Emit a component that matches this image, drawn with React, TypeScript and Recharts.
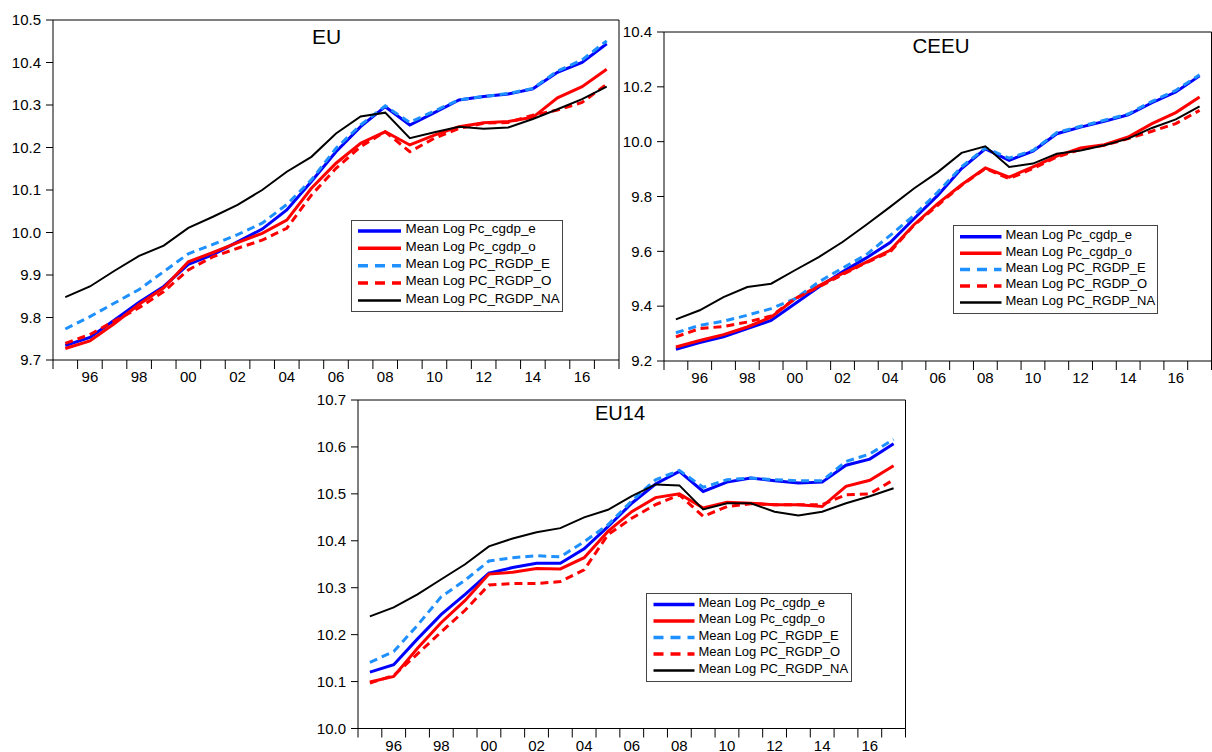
import React from 'react';
import { LineChart, Line, XAxis, YAxis, ReferenceArea, Legend } from 'recharts';

const FONT = "'Liberation Sans', Arial, sans-serif";

// ---------- data ----------
const years = [1995, 1996, 1997, 1998, 1999, 2000, 2001, 2002, 2003, 2004, 2005, 2006, 2007, 2008, 2009, 2010, 2011, 2012, 2013, 2014, 2015, 2016, 2017];
const xLabelYears = [1996, 1998, 2000, 2002, 2004, 2006, 2008, 2010, 2012, 2014, 2016];
const xBandEdges = [1994.5, 1995.5, 1996.5, 1997.5, 1998.5, 1999.5, 2000.5, 2001.5, 2002.5, 2003.5, 2004.5, 2005.5, 2006.5, 2007.5, 2008.5, 2009.5, 2010.5, 2011.5, 2012.5, 2013.5, 2014.5, 2015.5, 2016.5, 2017.5];

const seriesNames = ['Mean Log Pc_cgdp_e', 'Mean Log Pc_cgdp_o', 'Mean Log PC_RGDP_E', 'Mean Log PC_RGDP_O', 'Mean Log PC_RGDP_NA'];
const seriesKeys = ['cgdpE', 'cgdpO', 'rgdpE', 'rgdpO', 'rgdpNA'];

// EU
const euCgdpE = [9.734, 9.753, 9.794, 9.836, 9.873, 9.925, 9.948, 9.978, 10.008, 10.053, 10.12, 10.19, 10.249, 10.296, 10.253, 10.282, 10.312, 10.32, 10.326, 10.338, 10.377, 10.4, 10.444];
const euCgdpO = [9.727, 9.745, 9.786, 9.831, 9.87, 9.931, 9.953, 9.976, 9.998, 10.029, 10.104, 10.163, 10.21, 10.237, 10.206, 10.229, 10.249, 10.258, 10.261, 10.271, 10.317, 10.343, 10.384];
const euRgdpE = [9.773, 9.802, 9.834, 9.866, 9.908, 9.95, 9.972, 9.995, 10.022, 10.066, 10.124, 10.198, 10.253, 10.298, 10.259, 10.286, 10.312, 10.32, 10.327, 10.339, 10.38, 10.406, 10.451];
const euRgdpO = [9.739, 9.76, 9.792, 9.823, 9.861, 9.912, 9.943, 9.963, 9.982, 10.01, 10.088, 10.151, 10.202, 10.237, 10.19, 10.222, 10.245, 10.257, 10.259, 10.276, 10.288, 10.306, 10.349];
const euRgdpNA = [9.848, 9.873, 9.91, 9.945, 9.969, 10.011, 10.037, 10.065, 10.1, 10.143, 10.178, 10.233, 10.273, 10.282, 10.222, 10.236, 10.249, 10.244, 10.247, 10.267, 10.29, 10.314, 10.343];
const euYTicks = [9.7, 9.8, 9.9, 10.0, 10.1, 10.2, 10.3, 10.4, 10.5];

// CEEU
const ceeuCgdpE = [9.243, 9.267, 9.288, 9.318, 9.348, 9.409, 9.47, 9.525, 9.576, 9.632, 9.719, 9.804, 9.902, 9.974, 9.932, 9.965, 10.029, 10.053, 10.074, 10.098, 10.142, 10.181, 10.24];
const ceeuCgdpO = [9.251, 9.275, 9.296, 9.324, 9.36, 9.427, 9.474, 9.519, 9.561, 9.604, 9.697, 9.774, 9.843, 9.904, 9.871, 9.908, 9.947, 9.977, 9.989, 10.017, 10.066, 10.106, 10.163];
const ceeuRgdpE = [9.303, 9.33, 9.345, 9.367, 9.391, 9.427, 9.488, 9.539, 9.588, 9.658, 9.731, 9.816, 9.908, 9.977, 9.94, 9.968, 10.033, 10.056, 10.078, 10.101, 10.147, 10.187, 10.244];
const ceeuRgdpO = [9.288, 9.318, 9.326, 9.342, 9.364, 9.427, 9.47, 9.515, 9.559, 9.598, 9.695, 9.768, 9.841, 9.902, 9.865, 9.902, 9.944, 9.972, 9.987, 10.011, 10.038, 10.066, 10.114];
const ceeuRgdpNA = [9.352, 9.385, 9.433, 9.47, 9.482, 9.531, 9.579, 9.634, 9.697, 9.762, 9.829, 9.889, 9.959, 9.983, 9.908, 9.92, 9.956, 9.968, 9.987, 10.011, 10.05, 10.081, 10.129];
const ceeuYTicks = [9.2, 9.4, 9.6, 9.8, 10.0, 10.2, 10.4];

// EU14
const eu14CgdpE = [10.12, 10.136, 10.191, 10.243, 10.286, 10.331, 10.343, 10.352, 10.352, 10.383, 10.43, 10.48, 10.521, 10.548, 10.505, 10.525, 10.534, 10.528, 10.523, 10.525, 10.561, 10.574, 10.607];
const eu14CgdpO = [10.099, 10.111, 10.171, 10.226, 10.273, 10.329, 10.333, 10.341, 10.34, 10.364, 10.42, 10.462, 10.492, 10.5, 10.47, 10.482, 10.48, 10.477, 10.477, 10.473, 10.516, 10.529, 10.56];
const eu14RgdpE = [10.141, 10.164, 10.22, 10.281, 10.316, 10.357, 10.364, 10.368, 10.366, 10.398, 10.434, 10.485, 10.53, 10.55, 10.514, 10.53, 10.534, 10.53, 10.528, 10.528, 10.569, 10.585, 10.616];
const eu14RgdpO = [10.097, 10.113, 10.159, 10.206, 10.252, 10.306, 10.309, 10.309, 10.313, 10.338, 10.413, 10.448, 10.477, 10.498, 10.452, 10.473, 10.479, 10.477, 10.477, 10.477, 10.498, 10.5, 10.53];
const eu14RgdpNA = [10.239, 10.258, 10.286, 10.318, 10.35, 10.388, 10.405, 10.418, 10.427, 10.45, 10.466, 10.495, 10.52, 10.518, 10.467, 10.48, 10.48, 10.462, 10.454, 10.462, 10.48, 10.495, 10.512];
const eu14YTicks = [10.0, 10.1, 10.2, 10.3, 10.4, 10.5, 10.6, 10.7];

// ---------- styles ----------
const seriesStyles = [
  { color: '#0000ff', width: 3, dash: undefined as string | undefined, legendDash: undefined as string | undefined },
  { color: '#ff0000', width: 3, dash: undefined, legendDash: undefined },
  { color: '#1e90ff', width: 3, dash: '8 5', legendDash: '10 7' },
  { color: '#ff0000', width: 3, dash: '8 5', legendDash: '10 7' },
  { color: '#000000', width: 2, dash: undefined, legendDash: undefined },
];

function buildRows(cols: number[][]) {
  return years.map((year, i) => {
    const row: Record<string, number> = { year };
    seriesKeys.forEach((k, j) => {
      row[k] = cols[j][i];
    });
    return row;
  });
}

const xTicks = [...xBandEdges, ...xLabelYears];

function XTick(props: any) {
  const { x, y, payload } = props;
  const v = payload.value as number;
  if (Number.isInteger(v)) {
    return (
      <text x={x} y={y + 22} textAnchor="middle" fontSize={15} fontFamily={FONT} fill="#000">
        {String(v).slice(2)}
      </text>
    );
  }
  return <line x1={x} x2={x} y1={y} y2={y + 9} stroke="#000" strokeWidth={1} />;
}

type PanelCfg = {
  title: string;
  titleX: number;
  titleY: number;
  titleSize: number;
  rows: Record<string, number>[];
  yDomain: [number, number];
  yTicks: number[];
  plotLeft: number;
  plotTop: number;
  plotRight: number;
  plotBottom: number;
  legendX: number;
  legendY: number;
  legendW: number;
  legendH: number;
  legendRowStart: number;
  legendRowStep: number;
  legendFont: number;
  legendLineX1: number;
  legendLineX2: number;
  legendTextX: number;
};

function LegendBox({ cfg }: { cfg: PanelCfg }) {
  return (
    <div
      style={{
        width: cfg.legendW,
        height: cfg.legendH,
        border: '1px solid #444',
        background: '#fff',
        boxSizing: 'border-box',
      }}
    >
      <svg width={cfg.legendW - 2} height={cfg.legendH - 2} style={{ display: 'block' }}>
        {seriesNames.map((name, i) => {
          const cy = cfg.legendRowStart + i * cfg.legendRowStep;
          const st = seriesStyles[i];
          return (
            <g key={name}>
              <line
                x1={cfg.legendLineX1}
                x2={cfg.legendLineX2}
                y1={cy + 2.5}
                y2={cy + 2.5}
                stroke={st.color}
                strokeWidth={st.width + 0.5}
                strokeDasharray={st.legendDash}
              />
              <text x={cfg.legendTextX} y={cy + 4.8} fontSize={cfg.legendFont} fontFamily={FONT} fill="#000">
                {name}
              </text>
            </g>
          );
        })}
      </svg>
    </div>
  );
}

function Panel({ cfg }: { cfg: PanelCfg }) {
  const padL = 60;
  const padT = 10;
  const padR = 10;
  const xAxisH = 40;
  const left = cfg.plotLeft - padL;
  const top = cfg.plotTop - padT;
  const width = cfg.plotRight - cfg.plotLeft + padL + padR;
  const height = cfg.plotBottom - cfg.plotTop + padT + xAxisH;
  return (
    <>
      <div style={{ position: 'absolute', left, top }}>
        <LineChart width={width} height={height} data={cfg.rows} margin={{ top: padT, right: padR, bottom: 0, left: 0 }}>
          <XAxis
            dataKey="year"
            type="number"
            domain={[1994.5, 2017.5]}
            ticks={xTicks}
            interval={0}
            tickLine={false}
            axisLine={false}
            tickSize={0}
            tickMargin={0}
            height={xAxisH}
            tick={<XTick />}
            allowDataOverflow
          />
          <YAxis
            type="number"
            domain={cfg.yDomain}
            ticks={cfg.yTicks}
            interval={0}
            width={padL}
            tickSize={7}
            tickMargin={5}
            tickLine={{ stroke: '#000' }}
            axisLine={false}
            tick={{ fontSize: 15, fill: '#000', fontFamily: FONT }}
            tickFormatter={(v: number) => v.toFixed(1)}
            allowDataOverflow
          />
          <ReferenceArea
            x1={1994.5}
            x2={2017.5}
            y1={cfg.yDomain[0]}
            y2={cfg.yDomain[1]}
            fill="none"
            fillOpacity={0}
            stroke="#000"
            strokeWidth={1}
            strokeOpacity={1}
            ifOverflow="visible"
          />
          {seriesKeys.map((k, i) => (
            <Line
              key={k}
              dataKey={k}
              name={seriesNames[i]}
              type="linear"
              stroke={seriesStyles[i].color}
              strokeWidth={seriesStyles[i].width}
              strokeDasharray={seriesStyles[i].dash}
              dot={false}
              activeDot={false}
              isAnimationActive={false}
            />
          ))}
          <Legend
            layout="vertical"
            align="center"
            verticalAlign="middle"
            wrapperStyle={{
              left: cfg.legendX - left,
              top: cfg.legendY - top,
              width: cfg.legendW,
              height: cfg.legendH,
            }}
            content={() => <LegendBox cfg={cfg} />}
          />
        </LineChart>
      </div>
      <div
        style={{
          position: 'absolute',
          left: cfg.titleX,
          top: cfg.titleY,
          transform: 'translate(-50%, -50%)',
          fontSize: cfg.titleSize,
          lineHeight: 1,
          fontFamily: FONT,
          color: '#000',
          whiteSpace: 'nowrap',
        }}
      >
        {cfg.title}
      </div>
    </>
  );
}

const panels: PanelCfg[] = [
  {
    title: 'EU',
    titleX: 326.6,
    titleY: 35.8,
    titleSize: 21,
    rows: buildRows([euCgdpE, euCgdpO, euRgdpE, euRgdpO, euRgdpNA]),
    yDomain: [9.7, 10.5],
    yTicks: euYTicks,
    plotLeft: 52.5,
    plotTop: 20,
    plotRight: 618.5,
    plotBottom: 360,
    legendX: 350.7,
    legendY: 220,
    legendW: 212.5,
    legendH: 92,
    legendRowStart: 7.5,
    legendRowStep: 17.35,
    legendFont: 13.4,
    legendLineX1: 6,
    legendLineX2: 49,
    legendTextX: 53.5,
  },
  {
    title: 'CEEU',
    titleX: 941,
    titleY: 45.8,
    titleSize: 20.5,
    rows: buildRows([ceeuCgdpE, ceeuCgdpO, ceeuRgdpE, ceeuRgdpO, ceeuRgdpNA]),
    yDomain: [9.2, 10.4],
    yTicks: ceeuYTicks,
    plotLeft: 663.5,
    plotTop: 31.5,
    plotRight: 1211,
    plotBottom: 360.5,
    legendX: 952.7,
    legendY: 225,
    legendW: 205.6,
    legendH: 89.3,
    legendRowStart: 8.3,
    legendRowStep: 16.4,
    legendFont: 13,
    legendLineX1: 6,
    legendLineX2: 47.5,
    legendTextX: 51.5,
  },
  {
    title: 'EU14',
    titleX: 620,
    titleY: 413,
    titleSize: 20,
    rows: buildRows([eu14CgdpE, eu14CgdpO, eu14RgdpE, eu14RgdpO, eu14RgdpNA]),
    yDomain: [10.0, 10.7],
    yTicks: eu14YTicks,
    plotLeft: 357.5,
    plotTop: 400,
    plotRight: 905,
    plotBottom: 728.5,
    legendX: 646,
    legendY: 592.7,
    legendW: 205.7,
    legendH: 89,
    legendRowStart: 8,
    legendRowStep: 16.5,
    legendFont: 13,
    legendLineX1: 6.5,
    legendLineX2: 47.5,
    legendTextX: 51.5,
  },
];

export default function App() {
  return (
    <div
      style={{
        position: 'absolute',
        left: 0,
        top: 0,
        width: 1212,
        height: 752,
        overflow: 'hidden',
        background: '#fff',
        fontFamily: FONT,
      }}
    >
      {panels.map((p) => (
        <Panel key={p.title} cfg={p} />
      ))}
    </div>
  );
}
